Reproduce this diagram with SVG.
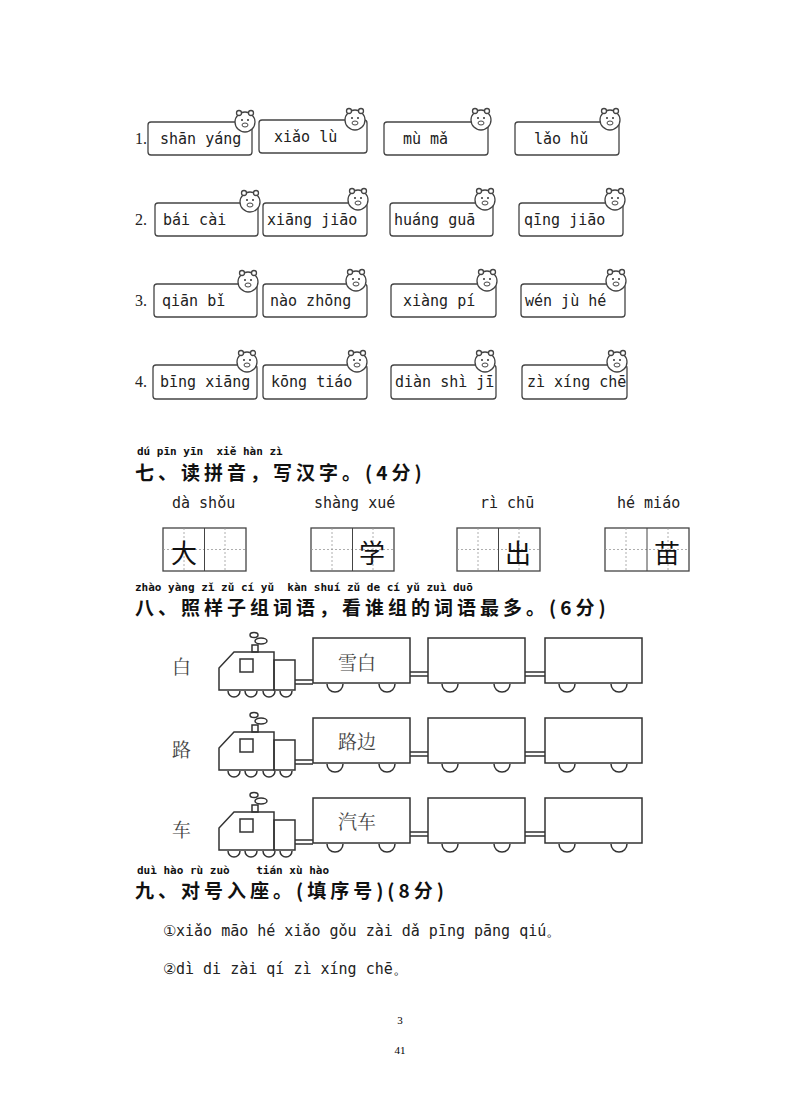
<svg xmlns="http://www.w3.org/2000/svg" width="800" height="1097" viewBox="0 0 800 1097">
<style>
.p{font-family:"DejaVu Sans Mono","Liberation Mono",monospace;font-size:15px;fill:#222}
.h{font-family:"Noto Sans CJK SC",sans-serif;font-size:19px;font-weight:bold;fill:#111;letter-spacing:4px}
.py{font-family:"DejaVu Sans Mono",monospace;font-size:11px;font-weight:bold;fill:#111;white-space:pre}
.c{font-family:"Noto Serif CJK SC","Noto Sans CJK SC",serif;font-size:19px;fill:#444}
.b{fill:#fff;stroke:#444;stroke-width:1.3}
.l{fill:none;stroke:#333;stroke-width:1.5}
.d{stroke:#999;stroke-width:0.8;stroke-dasharray:2 2}
.n{font-family:"Liberation Serif",serif;font-size:16px;fill:#222}
</style>
<defs>
<g id="pig"><circle cx="0" cy="0" r="10" class="b"/><circle cx="-6" cy="-9" r="2.5" class="b"/><circle cx="6" cy="-9" r="2.5" class="b"/><ellipse cx="0" cy="3" rx="3" ry="2" fill="none" stroke="#444"/><circle cx="-3" cy="-2" r="1" fill="#333"/><circle cx="3" cy="-2" r="1" fill="#333"/></g>
<g id="loco" class="l"><path d="M0,50 V28 L15,12 H55 V50 Z"/><rect x="55" y="20" width="21" height="30"/><rect x="21" y="19" width="13" height="13"/><rect x="33" y="5" width="6" height="7"/><ellipse cx="42" cy="1" rx="6" ry="3"/><ellipse cx="35" cy="-5" rx="4" ry="2.5"/><path d="M9,51a6,6 0 0 0 12,0M26,51a6,6 0 0 0 12,0M44,51a6,6 0 0 0 12,0M61,51a6,6 0 0 0 12,0"/><path d="M76,40H94M76,44H94"/></g>
<g id="car" class="l"><rect x="0" y="0" width="97" height="45"/><path d="M14,46a8,8 0 0 0 16,0M66,46a8,8 0 0 0 16,0"/></g>
</defs>
<g id="pinyin-boxes">
<text class="n" x="135" y="144">1.</text><text class="n" x="135" y="225">2.</text><text class="n" x="135" y="306">3.</text><text class="n" x="135" y="387">4.</text>
<rect class="b" x="148" y="122" width="104" height="33" rx="3"/><use href="#pig" x="245" y="122"/><text class="p" x="160" y="144">shān yáng</text>
<rect class="b" x="259" y="120" width="108" height="33" rx="3"/><use href="#pig" x="355" y="120"/><text class="p" x="274" y="142">xiǎo lù</text>
<rect class="b" x="384" y="122" width="104" height="33" rx="3"/><use href="#pig" x="481" y="120"/><text class="p" x="403" y="144">mù mǎ</text>
<rect class="b" x="515" y="122" width="104" height="33" rx="3"/><use href="#pig" x="610" y="120"/><text class="p" x="534" y="144">lǎo hǔ</text>

<rect class="b" x="155" y="203" width="103" height="33" rx="3"/><use href="#pig" x="250" y="202"/><text class="p" x="163" y="225">bái cài</text>
<rect class="b" x="263" y="203" width="104" height="33" rx="3"/><use href="#pig" x="358" y="200"/><text class="p" x="267" y="225">xiāng jiāo</text>
<rect class="b" x="390" y="203" width="103" height="33" rx="3"/><use href="#pig" x="485" y="200"/><text class="p" x="394" y="225">huáng guā</text>
<rect class="b" x="519" y="203" width="104" height="33" rx="3"/><use href="#pig" x="615" y="200"/><text class="p" x="524" y="225">qīng jiāo</text>

<rect class="b" x="154" y="284" width="103" height="33" rx="3"/><use href="#pig" x="248" y="282"/><text class="p" x="162" y="306">qiān bǐ</text>
<rect class="b" x="263" y="284" width="104" height="33" rx="3"/><use href="#pig" x="356" y="281"/><text class="p" x="270" y="306">nào zhōng</text>
<rect class="b" x="391" y="284" width="105" height="33" rx="3"/><use href="#pig" x="487" y="281"/><text class="p" x="403" y="306">xiàng pí</text>
<rect class="b" x="521" y="284" width="104" height="33" rx="3"/><use href="#pig" x="616" y="281"/><text class="p" x="525" y="306">wén jù hé</text>

<rect class="b" x="153" y="365" width="104" height="34" rx="3"/><use href="#pig" x="247" y="362"/><text class="p" x="160" y="387">bīng xiāng</text>
<rect class="b" x="263" y="365" width="104" height="34" rx="3"/><use href="#pig" x="357" y="362"/><text class="p" x="271" y="387">kōng tiáo</text>
<rect class="b" x="391" y="365" width="105" height="34" rx="3"/><use href="#pig" x="485" y="362"/><text class="p" x="395" y="387">diàn shì jī</text>
<rect class="b" x="522" y="365" width="105" height="34" rx="3"/><use href="#pig" x="617" y="362"/><text class="p" x="527" y="387">zì xíng chē</text>
</g>
<g id="sec7">
<text class="py" x="137" y="455">dú pīn yīn  xiě hàn zì</text>
<text class="h" x="135" y="480">七、读拼音，写汉字。(4分)</text>
<text class="p" x="172" y="508">dà  shǒu</text><text class="p" x="314" y="508">shàng xué</text><text class="p" x="480" y="508">rì chū</text><text class="p" x="617" y="508">hé miáo</text>
<g>
<rect class="b" x="163" y="528" width="83" height="43"/><path class="d" d="M163,549.5H246M184,528V571M225,528V571"/><path d="M204.5,528V571" stroke="#444"/>
<rect class="b" x="311" y="528" width="83" height="43"/><path class="d" d="M311,549.5H394M332,528V571M373,528V571"/><path d="M352.5,528V571" stroke="#444"/>
<rect class="b" x="457" y="528" width="83" height="43"/><path class="d" d="M457,549.5H540M478,528V571M519,528V571"/><path d="M498.5,528V571" stroke="#444"/>
<rect class="b" x="605" y="528" width="84" height="43"/><path class="d" d="M605,549.5H689M626,528V571M668,528V571"/><path d="M647,528V571" stroke="#444"/>
</g>
<text x="171" y="563" style="font-family:'Noto Sans CJK SC',sans-serif;font-size:26px;fill:#111">大</text>
<text x="359" y="563" style="font-family:'Noto Sans CJK SC',sans-serif;font-size:26px;fill:#111">学</text>
<text x="505" y="563" style="font-family:'Noto Sans CJK SC',sans-serif;font-size:26px;fill:#111">出</text>
<text x="654" y="563" style="font-family:'Noto Sans CJK SC',sans-serif;font-size:26px;fill:#111">苗</text>
</g>
<g id="sec8">
<text class="py" x="135" y="591">zhào yàng zǐ zǔ cí yǔ  kàn shuí zǔ de cí yǔ zuì duō</text>
<text class="h" x="135" y="615">八、照样子组词语，看谁组的词语最多。(6分)</text>
<text class="c" x="172" y="674">白</text><text class="c" x="172" y="757">路</text><text class="c" x="172" y="837">车</text>
<use href="#loco" x="219" y="640"/><use href="#car" x="313" y="638"/><use href="#car" x="428" y="638"/><use href="#car" x="545" y="638"/>
<path class="l" d="M410,672H428M410,676H428M525,672H545M525,676H545"/>
<use href="#loco" x="219" y="720"/><use href="#car" x="313" y="718"/><use href="#car" x="428" y="718"/><use href="#car" x="545" y="718"/>
<path class="l" d="M410,752H428M410,756H428M525,752H545M525,756H545"/>
<use href="#loco" x="219" y="800"/><use href="#car" x="313" y="798"/><use href="#car" x="428" y="798"/><use href="#car" x="545" y="798"/>
<path class="l" d="M410,832H428M410,836H428M525,832H545M525,836H545"/>
<text class="c" x="338" y="670">雪白</text><text class="c" x="338" y="749">路边</text><text class="c" x="338" y="829">汽车</text>
</g>
<g id="sec9">
<text class="py" x="137" y="874">duì hào rù zuò    tián xù hào</text>
<text class="h" x="135" y="898">九、对号入座。(填序号)(8分)</text>
<text class="p" x="163" y="936">①xiǎo māo hé xiǎo gǒu zài dǎ pīng pāng qiú。</text>
<text class="p" x="163" y="974">②dì di zài qí zì xíng chē。</text>
<text x="400" y="1024" text-anchor="middle" style="font-family:'Liberation Serif',serif;font-size:11px">3</text>
<text x="400" y="1054" text-anchor="middle" style="font-family:'Liberation Serif',serif;font-size:11px">41</text>
</g>
</svg>
